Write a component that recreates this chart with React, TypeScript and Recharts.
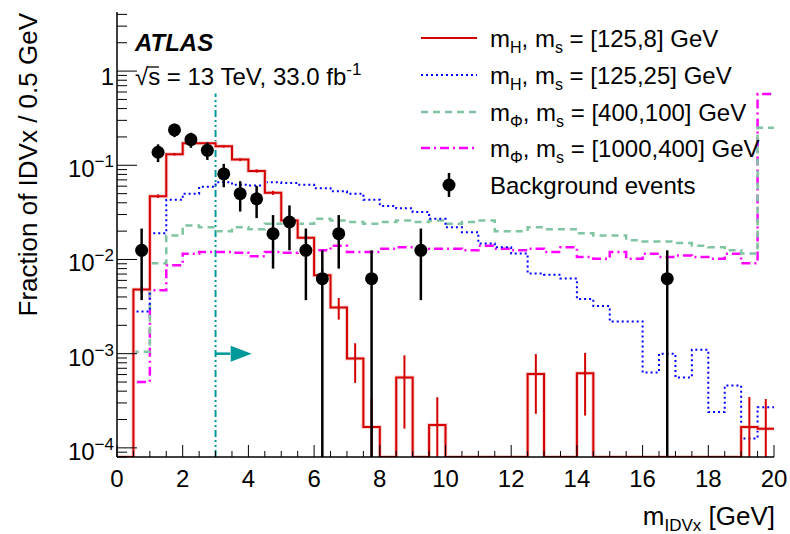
import React from "react";
import {
  ComposedChart,
  Line,
  Scatter,
  XAxis,
  YAxis,
  ErrorBar,
  ReferenceLine,
  ReferenceDot,
} from "recharts";

const FONT = "'Liberation Sans', Arial, Helvetica, sans-serif";
const YMIN = 8e-5;
const YMAX = 4.24;
const BIN_WIDTH = 0.5;

// fraction per 0.5 GeV bin, 0 - 20 GeV (last bin holds overflow)
const sigH125ms8 = [
  0, 0.0048, 0.047, 0.131, 0.171, 0.171, 0.159, 0.115, 0.087, 0.051,
  0.026, 0.017, 0.0068, 0.0031, 0.00089, 0.000167, 0, 0.00056, 0, 0.000175,
  0, 0, 0, 0, 0, 0.00061, 0, 0, 0.00062, 0,
  0, 0, 0, 0, 0, 0, 0, 0, 0.000167, 0.00016,
];
const sigH125ms8Err = [
  0, 0.0004, 0.002, 0.004, 0.005, 0.005, 0.005, 0.004, 0.0035, 0.0025,
  0.0018, 0.0015, 0.001, 0.0008, 0.0004, 0.00017, 0, 0.0004, 0, 0.00017,
  0, 0, 0, 0, 0, 0.00038, 0, 0, 0.0004, 0,
  0, 0, 0, 0, 0, 0, 0, 0, 0.00018, 0.00017,
];
const sigH125ms25 = [
  0, 0.0028, 0.019, 0.043, 0.05, 0.059, 0.066, 0.062, 0.061, 0.066,
  0.065, 0.062, 0.057, 0.053, 0.05, 0.043, 0.037, 0.035, 0.032, 0.027,
  0.022, 0.0195, 0.0148, 0.0135, 0.0116, 0.0071, 0.0069, 0.0063, 0.0038, 0.0032,
  0.0022, 0.0022, 0.00063, 0.001, 0.00056, 0.0011, 0.00024, 0.00046, 0.000126, 0.00027,
];
const sigPhi400ms100 = [
  0, 0.00105, 0.0091, 0.018, 0.023, 0.022, 0.02, 0.022, 0.021, 0.024,
  0.025, 0.024, 0.027, 0.026, 0.025, 0.024, 0.025, 0.026, 0.025, 0.026,
  0.024, 0.025, 0.026, 0.02, 0.02, 0.022, 0.021, 0.021, 0.019, 0.018,
  0.018, 0.016, 0.0155, 0.0155, 0.015, 0.014, 0.0135, 0.0125, 0.0116, 0.25,
];
const sigPhi1000ms400 = [
  0, 0.0005, 0.0047, 0.0087, 0.0115, 0.012, 0.012, 0.0118, 0.0108, 0.012,
  0.0118, 0.012, 0.0125, 0.014, 0.012, 0.012, 0.013, 0.0135, 0.0135, 0.013,
  0.013, 0.0125, 0.014, 0.013, 0.0125, 0.013, 0.012, 0.0135, 0.0106, 0.0102,
  0.012, 0.0102, 0.0115, 0.0106, 0.011, 0.0106, 0.0102, 0.0115, 0.0091, 0.57,
];

// background events (bin centres)
const bgX = [0.75, 1.25, 1.75, 2.25, 2.75, 3.25, 3.75, 4.25, 4.75, 5.25, 5.75, 6.25, 6.75, 7.75, 9.25, 16.75];
const bgFrac = [0.0125, 0.1375, 0.2375, 0.1875, 0.144, 0.081, 0.05, 0.044, 0.0188, 0.025, 0.0125, 0.00625, 0.0188, 0.00625, 0.0125, 0.00625];
const bgErr = [0.0088, 0.0293, 0.0385, 0.0342, 0.03, 0.0225, 0.0177, 0.0165, 0.0108, 0.0125, 0.0088, 0.00625, 0.0108, 0.00625, 0.0088, 0.00625];

const xMajorTicks = [0, 2, 4, 6, 8, 10, 12, 14, 16, 18, 20];
const yMajorTicks = [1e-4, 1e-3, 1e-2, 1e-1, 1];

const CUT_X = 3;
const CUT_TOP = 0.58;
const ARROW_Y = 1e-3;
const ARROW_TIP = 4.1;

const C_RED = "#d40000";
const C_BLUE = "#0000ff";
const C_GREEN = "#80c4a2";
const C_MAG = "#ff00ff";
const C_TEAL = "#009999";

const nBins = sigH125ms8.length;
const edges = Array.from({ length: nBins + 1 }, (_, i) => i * BIN_WIDTH);
const floorZero = (v: number) => (v > 0 ? v : YMIN);

const histRows = edges.map((x, i) => {
  const b = Math.min(i, nBins - 1);
  return {
    x,
    h8: floorZero(sigH125ms8[b]),
    h25: floorZero(sigH125ms25[b]),
    p100: floorZero(sigPhi400ms100[b]),
    p400: floorZero(sigPhi1000ms400[b]),
  };
});

const errRange = (v: number, e: number) => [Math.min(e, v - YMIN), e];

const h8ErrRows = sigH125ms8
  .map((v, i) => ({ x: edges[i] + BIN_WIDTH / 2, y: v, err: errRange(v, sigH125ms8Err[i]) }))
  .filter((r) => r.y > 0);

const bgRows = bgX.map((x, i) => ({ x, y: bgFrac[i], err: errRange(bgFrac[i], bgErr[i]) }));

const xTicks = Array.from({ length: 41 }, (_, i) => i * 0.5);
const yTicks: number[] = [];
for (let e = -5; e <= 0; e++) {
  for (let k = 1; k <= 9; k++) {
    const v = k * Math.pow(10, e);
    if (v >= YMIN && v <= YMAX) yTicks.push(v);
  }
}

const isXMajor = (v: number) => xMajorTicks.some((t) => Math.abs(t - v) < 1e-6);
const isYMajor = (v: number) => yMajorTicks.some((t) => Math.abs(t - v) / t < 1e-6);

function BottomTick({ x, y, payload }: any) {
  const major = isXMajor(payload.value);
  return (
    <g>
      <line x1={x} x2={x} y1={y} y2={y - (major ? 12 : 6)} stroke="#000" strokeWidth={1} />
      {major && (
        <text x={x} y={y + 30} textAnchor="middle" fontSize={24} fontFamily={FONT} fill="#000">
          {payload.value}
        </text>
      )}
    </g>
  );
}

function TopTick({ x, y, payload }: any) {
  const major = isXMajor(payload.value);
  return <line x1={x} x2={x} y1={y} y2={y + (major ? 12 : 6)} stroke="#000" strokeWidth={1} />;
}

function LeftTick({ x, y, payload }: any) {
  const v = payload.value;
  const major = isYMajor(v);
  const exp = Math.round(Math.log10(v));
  return (
    <g>
      <line x1={x} x2={x + (major ? 20 : 10)} y1={y} y2={y} stroke="#000" strokeWidth={1} />
      {major && exp === 0 && (
        <text x={x - 3} y={y + 14} textAnchor="end" fontSize={24} fontFamily={FONT} fill="#000">
          1
        </text>
      )}
      {major && exp !== 0 && (
        <text x={x - 3} y={y + 12} textAnchor="end" fontSize={24} fontFamily={FONT} fill="#000">
          10
          <tspan dy={-10} fontSize={17}>
            {"\u2212" + Math.abs(exp)}
          </tspan>
        </text>
      )}
    </g>
  );
}

function RightTick({ x, y, payload }: any) {
  const major = isYMajor(payload.value);
  return <line x1={x} x2={x - (major ? 20 : 10)} y1={y} y2={y} stroke="#000" strokeWidth={1} />;
}

const legendRows = [
  { sub: "H", mass: "[125,8]", color: C_RED, dash: undefined, width: 2 },
  { sub: "H", mass: "[125,25]", color: C_BLUE, dash: "2 3", width: 2 },
  { sub: "\u03A6", mass: "[400,100]", color: C_GREEN, dash: "7 5", width: 2.5 },
  { sub: "\u03A6", mass: "[1000,400]", color: C_MAG, dash: "9 4 2 4", width: 2.5 },
];
const legendY = [38, 75, 112, 148, 185];

function Overlay() {
  return (
    <svg
      width={790}
      height={534}
      style={{ position: "absolute", left: 0, top: 0, pointerEvents: "none" }}
      fontFamily={FONT}
    >
      <text x={135} y={51} fontSize={24} fontWeight="bold" fontStyle="italic" fill="#000">
        ATLAS
      </text>
      <text x={135} y={85} fontSize={24} fill="#000">
        {"\u221As = 13 TeV, 33.0 fb"}
        <tspan dy={-10} fontSize={17}>
          -1
        </tspan>
      </text>
      <line x1={147} x2={159} y1={67} y2={67} stroke="#000" strokeWidth={1.3} />

      {legendRows.map((r, i) => (
        <g key={i}>
          <line
            x1={421}
            x2={477}
            y1={legendY[i]}
            y2={legendY[i]}
            stroke={r.color}
            strokeWidth={r.width}
            strokeDasharray={r.dash}
          />
          <text x={490} y={legendY[i] + 9} fontSize={24} fill="#000">
            m
            <tspan dy={6} fontSize={16}>
              {r.sub}
            </tspan>
            <tspan dy={-6}>, m</tspan>
            <tspan dy={6} fontSize={16}>
              s
            </tspan>
            <tspan dy={-6}>{" = " + r.mass + " GeV"}</tspan>
          </text>
        </g>
      ))}
      <line x1={449} x2={449} y1={legendY[4] - 12} y2={legendY[4] + 12} stroke="#000" strokeWidth={2.5} />
      <circle cx={449} cy={legendY[4]} r={6.5} fill="#000" />
      <text x={490} y={legendY[4] + 9} fontSize={24} fill="#000">
        Background events
      </text>

      <text x={37} y={13} fontSize={26} fill="#000" textAnchor="end" transform="rotate(-90, 37, 13)">
        Fraction of IDVx / 0.5 GeV
      </text>
      <text x={775} y={525} fontSize={26} fill="#000" textAnchor="end">
        m
        <tspan dy={6} fontSize={17}>
          IDVx
        </tspan>
        <tspan dy={-6}> [GeV]</tspan>
      </text>
    </svg>
  );
}

export default function App() {
  return (
    <div style={{ position: "absolute", left: 0, top: 0, width: 790, height: 534, background: "#fff" }}>
      <ComposedChart width={790} height={534} data={histRows} margin={{ top: 12, right: 16, bottom: 37, left: 67 }}>
        <XAxis
          xAxisId={0}
          type="number"
          dataKey="x"
          domain={[0, 20]}
          ticks={xTicks}
          interval={0}
          tick={<BottomTick />}
          tickLine={false}
          tickSize={0}
          tickMargin={0}
          height={40}
          axisLine={{ stroke: "#000", strokeWidth: 1.5 }}
          allowDataOverflow
        />
        <XAxis
          xAxisId="top"
          orientation="top"
          type="number"
          dataKey="x"
          domain={[0, 20]}
          ticks={xTicks}
          interval={0}
          tick={<TopTick />}
          tickLine={false}
          tickSize={0}
          tickMargin={0}
          height={0}
          axisLine={{ stroke: "#000", strokeWidth: 1.5 }}
          allowDataOverflow
        />
        <YAxis
          yAxisId={0}
          type="number"
          dataKey="y"
          scale="log"
          domain={[YMIN, YMAX]}
          ticks={yTicks}
          interval={0}
          tick={<LeftTick />}
          tickLine={false}
          tickSize={0}
          tickMargin={0}
          width={50}
          axisLine={{ stroke: "#000", strokeWidth: 1.5 }}
          allowDataOverflow
        />
        <YAxis
          yAxisId="right"
          orientation="right"
          type="number"
          scale="log"
          domain={[YMIN, YMAX]}
          ticks={yTicks}
          interval={0}
          tick={<RightTick />}
          tickLine={false}
          tickSize={0}
          tickMargin={0}
          width={0}
          axisLine={{ stroke: "#000", strokeWidth: 1.5 }}
          allowDataOverflow
        />

        <ReferenceLine
          segment={[
            { x: CUT_X, y: YMIN },
            { x: CUT_X, y: CUT_TOP },
          ]}
          stroke={C_TEAL}
          strokeWidth={2}
          strokeDasharray="7 3 2 3 2 3"
        />
        <ReferenceLine
          segment={[
            { x: CUT_X, y: ARROW_Y },
            { x: 3.45, y: ARROW_Y },
          ]}
          stroke={C_TEAL}
          strokeWidth={2.5}
        />
        <ReferenceDot
          x={ARROW_TIP}
          y={ARROW_Y}
          shape={(p: any) => (
            <polygon
              points={`${p.cx},${p.cy} ${p.cx - 21},${p.cy - 8} ${p.cx - 21},${p.cy + 8}`}
              fill={C_TEAL}
            />
          )}
        />

        <Line dataKey="p400" type="stepAfter" stroke={C_MAG} strokeWidth={2.5} strokeDasharray="9 4 2 4" dot={false} activeDot={false} isAnimationActive={false} />
        <Line dataKey="p100" type="stepAfter" stroke={C_GREEN} strokeWidth={2.5} strokeDasharray="7 5" dot={false} activeDot={false} isAnimationActive={false} />
        <Line dataKey="h25" type="stepAfter" stroke={C_BLUE} strokeWidth={2} strokeDasharray="2 3" dot={false} activeDot={false} isAnimationActive={false} />
        <Line dataKey="h8" type="stepAfter" stroke="#f8d2d2" strokeWidth={4} dot={false} activeDot={false} isAnimationActive={false} />
        <Line dataKey="h8" type="stepAfter" stroke={C_RED} strokeWidth={2} dot={false} activeDot={false} isAnimationActive={false} />

        <Scatter data={h8ErrRows} dataKey="y" shape={() => <g />} isAnimationActive={false}>
          <ErrorBar dataKey="err" direction="y" width={0} stroke={C_RED} strokeWidth={2} />
        </Scatter>
        <Scatter
          data={bgRows}
          dataKey="y"
          shape={(p: any) => <circle cx={p.cx} cy={p.cy} r={6.5} fill="#000" />}
          isAnimationActive={false}
        >
          <ErrorBar dataKey="err" direction="y" width={0} stroke="#000" strokeWidth={2.5} />
        </Scatter>
      </ComposedChart>
      <Overlay />
    </div>
  );
}
